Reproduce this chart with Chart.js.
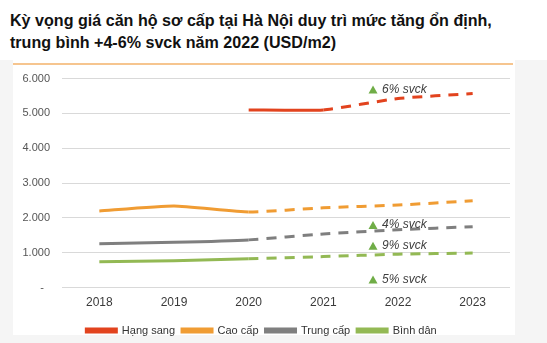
<!DOCTYPE html>
<html><head><meta charset="utf-8">
<script src="https://cdn.jsdelivr.net/npm/chart.js@4"></script>
<style>
html,body{margin:0;padding:0;}
body{width:547px;height:343px;background:#f5f5f5;position:relative;overflow:hidden;font-family:"Liberation Sans",Arial,sans-serif;}
#top{position:absolute;left:0;top:0;width:547px;height:60px;background:#fff;}
#title{position:absolute;left:10px;top:9px;font-weight:bold;font-size:16.1px;line-height:22px;color:#111;white-space:nowrap;}
#panel{position:absolute;left:13px;top:58px;width:502px;height:277px;background:#fff;}
#rule{position:absolute;left:13px;top:63px;width:500px;height:2px;background:#f6c58f;}
#wrap{position:absolute;left:13px;top:60px;width:520px;height:286px;}
</style></head><body>
<div id="top"></div>
<div id="panel"></div>
<div id="title">Kỳ vọng giá căn hộ sơ cấp tại Hà Nội duy trì mức tăng ổn định,<br>trung bình +4-6% svck năm 2022 (USD/m2)</div>
<div id="rule"></div>
<div id="wrap"><canvas id="c" width="520" height="286"></canvas></div>
<script>
const categories = ['2018','2019','2020','2021','2022','2023'];
const hangSang = [null, null, 5100, 5100, 5430, 5570];
const caoCap = [2200, 2340, 2170, 2290, 2370, 2490];
const trungCap = [1260, 1300, 1370, 1540, 1660, 1750];
const binhDan = [740, 770, 830, 890, 960, 990];
const seriesNames = ['Hạng sang','Cao cấp','Trung cấp','Bình dân'];
const forecastFrom = [3, 2, 2, 2];
const yTicks = [0, 1000, 2000, 3000, 4000, 5000, 6000];
const annoLabels = ['6% svck','4% svck','9% svck','5% svck'];
const annoValues = [5690, 1800, 1200, 230];
const annoCategory = '2022';

const colors = ['#e2431e','#f09c33','#7f7f7f','#93b954'];
const allData = [hangSang, caoCap, trungCap, binhDan];

const datasets = allData.map((d,i)=>({
  label: seriesNames[i],
  data: d,
  borderColor: colors[i],
  backgroundColor: colors[i],
  borderWidth: 3,
  pointRadius: 0,
  pointHoverRadius: 0,
  tension: 0.15,
  spanGaps: false,
  borderCapStyle: 'butt',
  segment: {
    borderDash: ctx => ctx.p0DataIndex >= forecastFrom[i] ? [10, 8] : undefined
  }
}));

const annoPlugin = {
  id: 'anno',
  afterDatasetsDraw(chart){
    const {ctx, scales:{x,y}} = chart;
    const cx = x.getPixelForValue(categories.indexOf(annoCategory));
    ctx.save();
    annoLabels.forEach((t,i)=>{
      const py = y.getPixelForValue(annoValues[i]);
      const tx = cx - 25;
      ctx.fillStyle = '#70ad47';
      ctx.beginPath();
      ctx.moveTo(tx, py - 4);
      ctx.lineTo(tx + 4.5, py + 4);
      ctx.lineTo(tx - 4.5, py + 4);
      ctx.closePath();
      ctx.fill();
      ctx.fillStyle = '#404040';
      ctx.font = 'italic 12px "Liberation Sans", Arial, sans-serif';
      ctx.textBaseline = 'middle';
      ctx.textAlign = 'left';
      ctx.fillText(t, tx + 9, py);
    });
    ctx.restore();
  }
};

new Chart(document.getElementById('c'), {
  type: 'line',
  data: { labels: categories, datasets },
  plugins: [annoPlugin],
  options: {
    responsive: false,
    animation: false,
    layout: { padding: { top: 0, right: 23, left: 0, bottom: 0 } },
    plugins: {
      tooltip: { enabled: false },
      legend: {
        position: 'bottom',
        labels: {
          boxWidth: 30, boxHeight: 3,
          color: '#333',
          padding: 7,
          font: { family: '"Liberation Sans", Arial, sans-serif', size: 11 }
        }
      }
    },
    scales: {
      x: {
        offset: true,
        grid: { display: false, drawTicks: false },
        border: { display: false },
        ticks: { color: '#3a3a3a', padding: 8, font: { family: '"Liberation Sans", Arial, sans-serif', size: 12 } }
      },
      y: {
        min: 0, max: 6000,
        afterFit(s){ s.width = 49; },
        afterBuildTicks(s){ s.ticks = yTicks.map(v=>({value:v})); },
        grid: { color: '#d9d9d9', drawTicks: false },
        border: { display: false },
        ticks: {
          padding: 12,
          color: '#555',
          font: { family: '"Liberation Sans", Arial, sans-serif', size: 11 },
          callback: v => v === 0 ? '-  ' : v.toLocaleString('de-DE')
        }
      }
    }
  }
});
</script>
</body></html>
